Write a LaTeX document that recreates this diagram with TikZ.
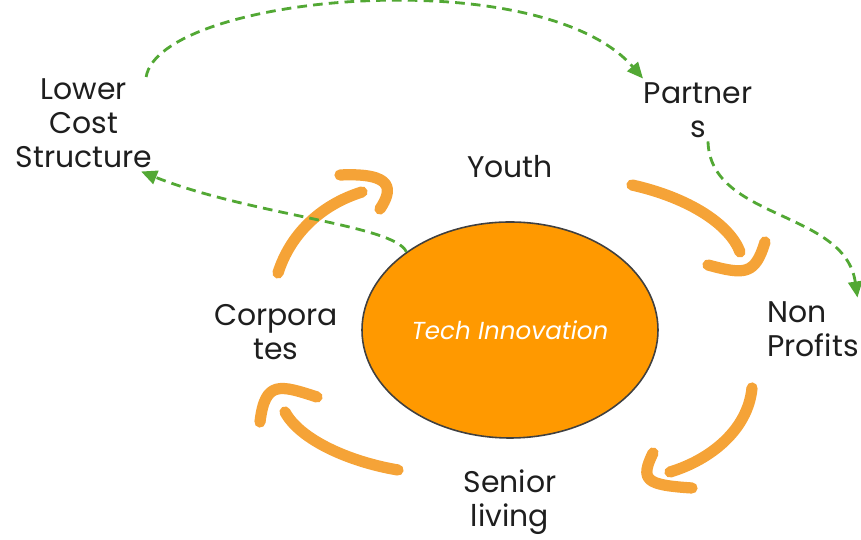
\documentclass[tikz,border=0pt]{standalone}
\usepackage{fontspec}
\setmainfont{Poppins}
\usepackage{tikz}
\usetikzlibrary{arrows.meta,shapes.geometric,positioning}
\definecolor{tangerine}{RGB}{255,153,0}
\definecolor{peel}{RGB}{245,163,55}
\definecolor{leaf}{RGB}{82,168,52}
\definecolor{ink}{RGB}{30,30,30}
\tikzset{
  >={Triangle[length=3.2mm,width=2.8mm]},
  hub/.style={ellipse,draw=ink!85,fill=tangerine,line width=0.9pt,
    minimum width=59.2mm,minimum height=43.2mm,text=white,
    font=\fontsize{14}{16}\selectfont\itshape},
  word/.style={align=center,text=ink,inner sep=2pt,
    font=\fontsize{17}{19.4}\selectfont},
  swoosh/.style={draw=peel,line width=6.4pt,line cap=round,line join=round},
  link/.style={->,draw=leaf,line width=1.6pt,dash pattern=on 5.5pt off 3.5pt},
}

\begin{document}
\begin{tikzpicture}
  \useasboundingbox (0,0) rectangle (17.22,10.8);
  \node[hub] (core) at (10.2,4.2) {Tech Innovation};
  \node[word] (youth) at (10.2,7.46) {Youth};
  \node[word] (lower) at (1.68,8.34) {Lower\\Cost\\Structure};
  \node[word] (partners) at (13.96,8.6) {Partner\\s};
  \node[word,align=left] (nonprofits) at (16.26,4.22) {Non\\Profits};
  \node[word] (senior) at (10.2,0.76) {Senior\\living};
  \node[word] (corporates) at (5.52,4.16) {Corpora\\tes};

  % cycle strokes round the hub
  \draw[swoosh] (5.56,5.34) .. controls (5.8,6.1) and (6.4,6.7) .. (7.24,6.96);
  \draw[swoosh] (6.8,7.3) .. controls (7.9,7.35) and (7.85,7.0) .. (7.6,6.62);
  \draw[swoosh] (12.64,7.1) .. controls (13.8,6.84) and (14.6,6.3) .. (14.8,5.76);
  \draw[swoosh] (14.16,5.5) .. controls (14.9,5.3) and (15.1,5.3) .. (15.3,5.96);
  \draw[swoosh] (15.04,3.04) .. controls (14.96,2.2) and (14.2,1.6) .. (13.4,1.36);
  \draw[swoosh] (13.06,1.74) .. controls (12.8,1.2) and (12.9,1.1) .. (13.84,1.04);
  \draw[swoosh] (7.96,1.4) .. controls (7.0,1.56) and (6.0,2.0) .. (5.7,2.56);
  \draw[swoosh] (5.2,2.36) .. controls (5.3,3.2) and (5.6,3.1) .. (6.34,2.86);

  % dashed links
  \draw[link] ([xshift=-0.2cm,yshift=-0.05cm]lower.north east)
    .. controls (3.2,10.9) and (10.8,11.6) .. ([xshift=0.06cm]partners.north west);
  \draw[link] ([xshift=0.2cm]partners.south)
    .. controls (14.2,6.4) and (16.9,6.6) .. ([xshift=-0.1cm]nonprofits.north east);
  \draw[link] (core.143) .. controls (7.9,6.3) and (5.0,6.5)
    .. ([xshift=-0.3cm]lower.south east);
\end{tikzpicture}
\end{document}
